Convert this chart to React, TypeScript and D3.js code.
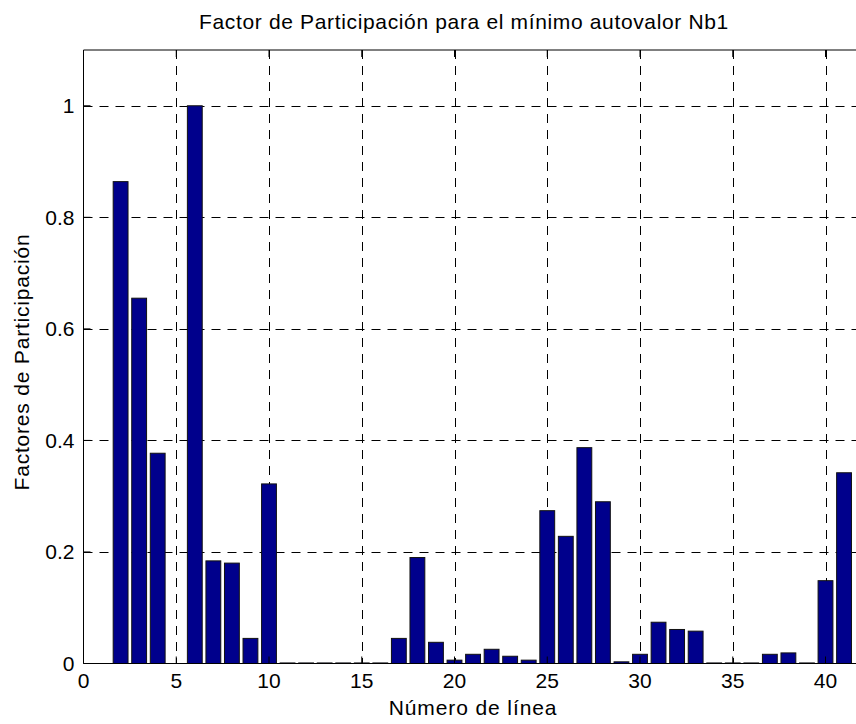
import React from "react";
import * as d3 from "d3";

// Participation factor per line number (1..41)
const lineNumbers: number[] = [
  1, 2, 3, 4, 5, 6, 7, 8, 9, 10, 11, 12, 13, 14, 15, 16, 17, 18, 19, 20, 21,
  22, 23, 24, 25, 26, 27, 28, 29, 30, 31, 32, 33, 34, 35, 36, 37, 38, 39, 40, 41,
];
const participation: number[] = [
  0, 0.864, 0.655, 0.377, 0, 1.0, 0.184, 0.18, 0.045, 0.322, 0.001, 0.001,
  0.001, 0.001, 0.001, 0.001, 0.045, 0.19, 0.038, 0.006, 0.0165, 0.0255, 0.013,
  0.006, 0.274, 0.228, 0.387, 0.29, 0.003, 0.0165, 0.074, 0.061, 0.058, 0.001,
  0.001, 0.001, 0.0165, 0.019, 0.001, 0.1485, 0.342,
];
const xTicks: number[] = [0, 5, 10, 15, 20, 25, 30, 35, 40];
const yTicks: number[] = [0, 0.2, 0.4, 0.6, 0.8, 1];

const titleText = "Factor de Participación para el mínimo autovalor Nb1";
const xLabel = "Número de línea";
const yLabel = "Factores de Participación";

const W = 856;
const H = 724;
const left = 83.5;
const top = 50;
const bottom = 663.5;
const unit = 18.55;

export default function App() {
  const x = d3.scaleLinear().domain([0, 42]).range([left, left + 42 * unit]);
  const y = d3.scaleLinear().domain([0, 1.1]).range([bottom, top]);
  const barW = x(0.8) - x(0);
  const right = x(42);
  const font = "'Liberation Sans', Arial, Helvetica, sans-serif";
  const fs = 21;
  const dash = "9,7";

  return (
    <svg
      width={W}
      height={H}
      style={{ position: "absolute", left: 0, top: 0, background: "#fff" }}
      fontFamily={font}
    >
      <rect x={0} y={0} width={W} height={H} fill="#fff" />
      {/* grid */}
      {xTicks
        .filter((t) => t > 0)
        .map((t) => (
          <line
            key={"gx" + t}
            x1={Math.round(x(t)) + 0.5}
            x2={Math.round(x(t)) + 0.5}
            y1={top}
            y2={bottom}
            stroke="#000"
            strokeWidth={1}
            strokeDasharray={dash}
          />
        ))}
      {yTicks
        .filter((t) => t > 0)
        .map((t) => (
          <line
            key={"gy" + t}
            x1={left}
            x2={right}
            y1={Math.round(y(t)) + 0.5}
            y2={Math.round(y(t)) + 0.5}
            stroke="#000"
            strokeWidth={1}
            strokeDasharray={dash}
          />
        ))}
      {/* bars */}
      {participation.map((v, i) =>
        v > 0 ? (
          <rect
            key={"b" + i}
            x={x(lineNumbers[i]) - barW / 2}
            y={y(v)}
            width={barW}
            height={y(0) - y(v)}
            fill="#00008c"
            stroke="#111"
            strokeWidth={1}
          />
        ) : null
      )}
      {/* axes box */}
      <line x1={left} x2={right} y1={top} y2={top} stroke="#000" />
      <line x1={left} x2={right} y1={bottom} y2={bottom} stroke="#000" />
      <line x1={left} x2={left} y1={top} y2={bottom} stroke="#000" />
      {/* ticks */}
      {xTicks.map((t) => (
        <g key={"tx" + t}>
          <line x1={x(t)} x2={x(t)} y1={bottom} y2={bottom - 7} stroke="#000" />
          <line x1={x(t)} x2={x(t)} y1={top} y2={top + 7} stroke="#000" />
          <text
            x={x(t)}
            y={bottom + 24}
            textAnchor="middle"
            fontSize={fs}
            fill="#000"
          >
            {t}
          </text>
        </g>
      ))}
      {yTicks.map((t) => (
        <g key={"ty" + t}>
          <line x1={left} x2={left + 7} y1={y(t)} y2={y(t)} stroke="#000" />
          <text
            x={left - 9}
            y={y(t) + 7.5}
            textAnchor="end"
            fontSize={fs}
            fill="#000"
          >
            {t === 0 || t === 1 ? String(t) : t.toFixed(1)}
          </text>
        </g>
      ))}
      {/* labels */}
      <text
        x={464}
        y={29}
        textAnchor="middle"
        fontSize={fs}
        letterSpacing={0.65}
        fill="#000"
      >
        {titleText}
      </text>
      <text
        x={(left + right) / 2}
        y={715}
        textAnchor="middle"
        fontSize={fs}
        letterSpacing={0.9}
        fill="#000"
      >
        {xLabel}
      </text>
      <text
        transform={`translate(29, 362) rotate(-90)`}
        textAnchor="middle"
        fontSize={fs}
        letterSpacing={0.8}
        fill="#000"
      >
        {yLabel}
      </text>
    </svg>
  );
}
